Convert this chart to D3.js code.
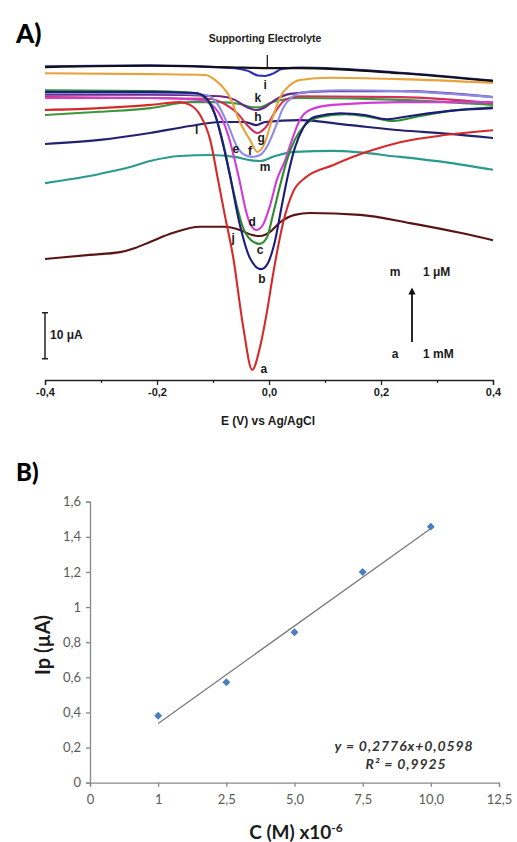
<!DOCTYPE html>
<html>
<head>
<meta charset="utf-8">
<script src="https://cdn.jsdelivr.net/npm/d3@7"></script>
<style>
  body { margin: 0; background: #fff; }
  .lbl { font-family: "Liberation Sans", Arial, sans-serif; font-weight: bold; fill: #1a1a1a; }
  .xl { font-family: Lato, "Open Sans", sans-serif; }
</style>
</head>
<body>
<div id="chart"></div>
<script>
// ---------- panel A : voltammograms (E in V, I in uA, arbitrary offset) ----------
var curveSE = [[-0.4,68.0],[-0.2125,68.3],[-0.07,68.0],[0.002,67.8],[0.055,67.8],[0.234,66.7],[0.4,65.0]];
var curveI = [[-0.4,68.2],[-0.2125,68.4],[-0.061,67.8],[-0.0375,67.2],[-0.02,66.2],[-0.007,66.1],[0.005,66.5],[0.023,67.6],[0.055,67.9],[0.234,66.8],[0.4,65.1]];
var curveF = [[-0.4,66.7],[-0.2125,66.5],[-0.114,66.3],[-0.096,65.2],[-0.07,61.5],[-0.052,56.1],[-0.034,52.2],[-0.021,49.6],[-0.007,51.7],[0.005,56.5],[0.02,61.5],[0.0375,64.1],[0.055,65.2],[0.109,65.7],[0.234,65.4],[0.4,64.6]];
var curveA = [[-0.4,58.7],[-0.302,59.1],[-0.2125,59.8],[-0.159,60.4],[-0.141,59.8],[-0.123,57.6],[-0.105,52.2],[-0.091,43.5],[-0.079,35.9],[-0.064,26.7],[-0.046,11.5],[-0.03,2.2],[-0.016,7.2],[-0.004,14.6],[0.007,22.8],[0.025,34.1],[0.043,40.9],[0.064,43.9],[0.114,46.7],[0.175,49.6],[0.234,51.7],[0.318,53.3],[0.4,54.3]];
var curveB = [[-0.4,62.6],[-0.2125,62.6],[-0.132,62.4],[-0.114,61.5],[-0.096,57.6],[-0.084,52.2],[-0.07,44.6],[-0.052,33.7],[-0.034,26.5],[-0.014,24.1],[-0.002,25.4],[0.011,30.4],[0.023,38.0],[0.034,44.6],[0.046,50.4],[0.061,54.8],[0.082,57.2],[0.127,58.0],[0.171,57.6],[0.211,56.7],[0.252,57.4],[0.323,58.5],[0.4,59.1]];
var curveC = [[-0.4,63.0],[-0.2125,62.8],[-0.132,62.4],[-0.111,60.9],[-0.093,56.5],[-0.079,50.0],[-0.064,41.3],[-0.046,33.0],[-0.03,30.2],[-0.016,29.6],[-0.004,30.9],[0.007,35.9],[0.02,42.4],[0.032,47.8],[0.046,52.2],[0.064,55.4],[0.091,57.2],[0.136,57.8],[0.18,57.2],[0.221,56.3],[0.27,57.4],[0.323,58.5],[0.4,59.3]];
var curveD = [[-0.4,61.3],[-0.2125,61.3],[-0.123,60.9],[-0.096,59.1],[-0.073,53.3],[-0.055,44.6],[-0.0375,35.2],[-0.023,32.6],[-0.011,33.7],[0.002,38.0],[0.014,43.5],[0.029,47.8],[0.041,52.2],[0.055,56.5],[0.073,58.7],[0.114,59.8],[0.234,60.4],[0.4,60.4]];
var curveE = [[-0.4,62.4],[-0.2125,62.4],[-0.114,62.0],[-0.091,59.8],[-0.073,55.4],[-0.057,50.7],[-0.043,48.9],[-0.03,48.5],[-0.016,48.9],[-0.002,51.1],[0.013,55.4],[0.025,59.1],[0.041,61.5],[0.064,62.6],[0.127,63.0],[0.234,62.8],[0.4,61.5]];
var curveG = [[-0.4,61.5],[-0.2125,61.3],[-0.105,61.1],[-0.079,60.0],[-0.055,57.8],[-0.0375,55.2],[-0.021,53.7],[-0.007,54.8],[0.011,58.3],[0.029,60.9],[0.055,61.7],[0.234,61.5],[0.4,60.2]];
var curveH = [[-0.4,62.0],[-0.2125,62.0],[-0.0875,61.7],[-0.061,60.9],[-0.039,59.3],[-0.023,58.7],[-0.007,59.3],[0.011,60.9],[0.0375,62.2],[0.109,62.8],[0.234,62.8],[0.4,61.5]];
var curveK = [[-0.4,57.6],[-0.302,58.3],[-0.2125,59.1],[-0.141,60.4],[-0.0875,60.4],[-0.052,60.0],[-0.03,59.3],[-0.016,59.3],[0.002,60.2],[0.055,61.3],[0.234,60.9],[0.4,59.8]];
var curveL = [[-0.4,51.3],[-0.302,52.2],[-0.2125,53.7],[-0.141,55.2],[-0.0875,56.1],[-0.043,56.1],[-0.023,55.4],[-0.007,56.1],[0.055,56.5],[0.145,55.4],[0.234,54.3],[0.323,53.5],[0.4,52.6]];
var curveM = [[-0.4,42.8],[-0.302,44.8],[-0.248,46.3],[-0.2125,47.6],[-0.159,48.7],[-0.105,48.9],[-0.061,48.5],[-0.034,47.8],[-0.016,47.6],[0.011,48.7],[0.046,49.6],[0.114,49.8],[0.234,48.5],[0.323,47.2],[0.4,45.7]];
var curveJ = [[-0.4,26.3],[-0.32,27.2],[-0.266,27.8],[-0.239,28.7],[-0.2125,30.0],[-0.171,32.0],[-0.123,33.3],[-0.079,33.3],[-0.052,32.6],[-0.03,31.5],[-0.016,31.3],[0.002,32.2],[0.02,34.3],[0.046,35.9],[0.073,36.3],[0.1625,35.9],[0.252,34.1],[0.341,32.0],[0.4,30.4]];

// drawing order, bottom first
var curveList = [curveJ, curveM, curveL, curveK, curveH, curveG, curveE, curveF, curveD, curveC, curveB, curveA, curveI, curveSE];
var curveColors = ["#5a1414", "#2a9a8c", "#22226e", "#3c963c", "#6a2a8a", "#d0305a", "#8c8ce6", "#e9a23b", "#d03cd8", "#2e8b2e", "#1c1c7a", "#d62a2a", "#2b2bb8", "#111111"];

// curve letters, placed in data units
var letterText = ["i", "k", "h", "g", "e", "f", "m", "l", "d", "j", "c", "b", "a"];
var letterE = [-0.007, -0.020, -0.020, -0.014, -0.059, -0.034, -0.007, -0.129, -0.030, -0.064, -0.016, -0.0125, -0.009];
var letterI = [64.1, 61.3, 57.2, 52.6, 50.2, 49.8, 46.3, 54.3, 34.3, 30.9, 28.3, 22.0, 2.4];

var eMajor = [-0.4, -0.2, 0, 0.2, 0.4];
var eMinor = [-0.3, -0.1, 0.1, 0.3];

// ---------- panel B : calibration ----------
var concTickLabels = ["0", "1", "2,5", "5,0", "7,5", "10,0", "12,5"];
var concLabels = ["1", "2,5", "5,0", "7,5", "10,0"];
var peakCurrent = [0.381, 0.572, 0.857, 1.20, 1.458];
var ipTicks = [0, 0.2, 0.4, 0.6, 0.8, 1, 1.2, 1.4, 1.6];
var ipTickLabels = ["0", "0,2", "0,4", "0,6", "0,8", "1", "1,2", "1,4", "1,6"];
var fitSlope = 0.2776, fitIntercept = 0.0598;  // as printed on the chart (x = point index)

var svg = d3.select("#chart").append("svg")
    .attr("width", 517)
    .attr("height", 842)
    .style("display", "block");

svg.append("rect").attr("width", 517).attr("height", 842).attr("fill", "#fff");

// ===== panel A =====
var xA = d3.scaleLinear().domain([-0.4, 0.4]).range([45, 493]);
var yA = d3.scaleLinear().domain([0, 70]).range([380, 380 - 70 * 4.6]);

svg.append("text").attr("x", 16).attr("y", 43)
    .style("font-family", "Lato, sans-serif").style("font-weight", "900")
    .style("font-size", "26px").text("A)");

var lineA = d3.line()
    .x(function(d) { return xA(d[0]); })
    .y(function(d) { return yA(d[1]); })
    .curve(d3.curveMonotoneX);

svg.append("g").selectAll("path")
    .data(curveList)
    .enter().append("path")
    .attr("d", lineA)
    .attr("fill", "none")
    .attr("stroke", function(d, i) { return curveColors[i]; })
    .attr("stroke-width", 2.1)
    .attr("stroke-linejoin", "round");

// supporting electrolyte marker
svg.append("text").attr("class", "lbl")
    .attr("x", xA(-0.007)).attr("y", 42)
    .attr("text-anchor", "middle").style("font-size", "10.5px")
    .text("Supporting Electrolyte");
svg.append("line")
    .attr("x1", xA(-0.003)).attr("x2", xA(-0.003))
    .attr("y1", 55).attr("y2", yA(68))
    .attr("stroke", "#222").attr("stroke-width", 1.3);

svg.append("g").selectAll("text")
    .data(letterText)
    .enter().append("text")
    .attr("class", "lbl")
    .attr("x", function(d, i) { return xA(letterE[i]); })
    .attr("y", function(d, i) { return yA(letterI[i]); })
    .attr("text-anchor", "middle")
    .attr("dy", "0.35em")
    .style("font-size", "12px")
    .text(function(d) { return d; });

// x axis
var axA = svg.append("g").attr("transform", "translate(0,380)")
    .call(d3.axisBottom(xA).tickValues(eMajor).tickSize(5).tickPadding(3)
      .tickFormat(function(d) { return d3.format(".1f")(d).replace(".", ",").replace("−", "-"); }));
axA.select(".domain").attr("stroke", "#222").attr("stroke-width", 1.3);
axA.selectAll(".tick line").attr("stroke", "#222").attr("stroke-width", 1.3);
axA.selectAll("text").attr("class", "lbl").style("font-size", "11px").attr("fill", "#1a1a1a");

var axMinor = svg.append("g").attr("transform", "translate(0,380)")
    .call(d3.axisBottom(xA).tickValues(eMinor).tickSize(3).tickFormat(""));
axMinor.select(".domain").remove();
axMinor.selectAll(".tick line").attr("stroke", "#222").attr("stroke-width", 1.2);

svg.append("text").attr("class", "lbl")
    .attr("x", 268).attr("y", 425).attr("text-anchor", "middle")
    .style("font-size", "12px").text("E (V) vs Ag/AgCl");

// 10 uA scale bar
var barX = xA(-0.4);
svg.append("path")
    .attr("d", "M" + (barX - 3) + "," + yA(14.6) + "H" + (barX + 3) +
               "M" + barX + "," + yA(14.6) + "V" + yA(4.6) +
               "M" + (barX - 3) + "," + yA(4.6) + "H" + (barX + 3))
    .attr("stroke", "#222").attr("stroke-width", 1.5).attr("fill", "none");
svg.append("text").attr("class", "lbl").attr("x", 50).attr("y", 339)
    .style("font-size", "12px").text("10 \u03bcA");

// concentration arrow
svg.append("defs").append("marker")
    .attr("id", "head").attr("viewBox", "0 0 10 10")
    .attr("refX", 5).attr("refY", 5)
    .attr("markerWidth", 4).attr("markerHeight", 5)
    .attr("orient", "auto")
  .append("path").attr("d", "M0,0L10,5L0,10z").attr("fill", "#111");
svg.append("line")
    .attr("x1", 412).attr("x2", 412).attr("y1", 342).attr("y2", 291)
    .attr("stroke", "#111").attr("stroke-width", 1.8)
    .attr("marker-end", "url(#head)");
svg.append("text").attr("class", "lbl").attr("x", 395).attr("y", 276)
    .attr("text-anchor", "middle").style("font-size", "12px").text("m");
svg.append("text").attr("class", "lbl").attr("x", 423).attr("y", 276)
    .style("font-size", "12px").text("1 \u03bcM");
svg.append("text").attr("class", "lbl").attr("x", 395).attr("y", 358)
    .attr("text-anchor", "middle").style("font-size", "12px").text("a");
svg.append("text").attr("class", "lbl").attr("x", 423).attr("y", 358)
    .style("font-size", "12px").text("1 mM");

// ===== panel B =====
var xB = d3.scalePoint().domain(concTickLabels).range([90, 499]);
var yB = d3.scaleLinear().domain([0, 1.6]).range([782.7, 501.7]);

svg.append("text").attr("x", 16).attr("y", 481)
    .style("font-family", "Lato, sans-serif").style("font-weight", "900")
    .style("font-size", "24px").text("B)");

var axY = svg.append("g").attr("transform", "translate(90,0)")
    .call(d3.axisLeft(yB).tickValues(ipTicks).tickSize(4).tickPadding(5)
      .tickFormat(function(d, i) { return ipTickLabels[i]; }));
var axX = svg.append("g").attr("transform", "translate(0,782.7)")
    .call(d3.axisBottom(xB).tickSize(4).tickPadding(8));
[axY, axX].forEach(function(ax) {
  ax.select(".domain").attr("stroke", "#888").attr("stroke-width", 1.3);
  ax.selectAll(".tick line").attr("stroke", "#888").attr("stroke-width", 1.3);
  ax.selectAll("text").attr("class", "xl").style("font-size", "13px").attr("fill", "#595959");
});

// linear fit, between first and last point
var fitIdx = [1, 5];
svg.append("line")
    .attr("x1", xB(concLabels[0])).attr("y1", yB(fitSlope * fitIdx[0] + fitIntercept))
    .attr("x2", xB(concLabels[4])).attr("y2", yB(fitSlope * fitIdx[1] + fitIntercept))
    .attr("stroke", "#7a7a7a").attr("stroke-width", 1.3);

svg.append("g").selectAll("path")
    .data(peakCurrent)
    .enter().append("path")
    .attr("d", d3.symbol().type(d3.symbolDiamond2).size(40))
    .attr("transform", function(d, i) { return "translate(" + xB(concLabels[i]) + "," + yB(d) + ")"; })
    .attr("fill", "#4a7fbf");

// fit equation
svg.append("text").attr("class", "xl")
    .attr("x", 404).attr("y", 751).attr("text-anchor", "middle")
    .style("font-size", "14px").style("font-weight", "bold").style("font-style", "italic")
    .style("letter-spacing", "0.9px")
    .attr("fill", "#333").text("y = 0,2776x+0,0598");
svg.append("text").attr("class", "xl")
    .attr("x", 406).attr("y", 769).attr("text-anchor", "middle")
    .style("font-size", "14px").style("font-weight", "bold").style("font-style", "italic")
    .style("letter-spacing", "0.9px")
    .attr("fill", "#333").text("R\u00b2 = 0,9925");

svg.append("text").attr("class", "xl")
    .attr("transform", "translate(50,645) rotate(-90)")
    .attr("text-anchor", "middle")
    .style("font-size", "20px").style("font-weight", "bold").attr("fill", "#1a1a1a")
    .text("Ip (\u00b5A)");

var xTitle = svg.append("text").attr("class", "xl")
    .attr("x", 296).attr("y", 839).attr("text-anchor", "middle")
    .style("font-size", "19px").style("font-weight", "bold").attr("fill", "#1a1a1a");
xTitle.append("tspan").text("C (M) x10");
xTitle.append("tspan").attr("dy", "-7").style("font-size", "12px").text("-6");
</script>
</body>
</html>
